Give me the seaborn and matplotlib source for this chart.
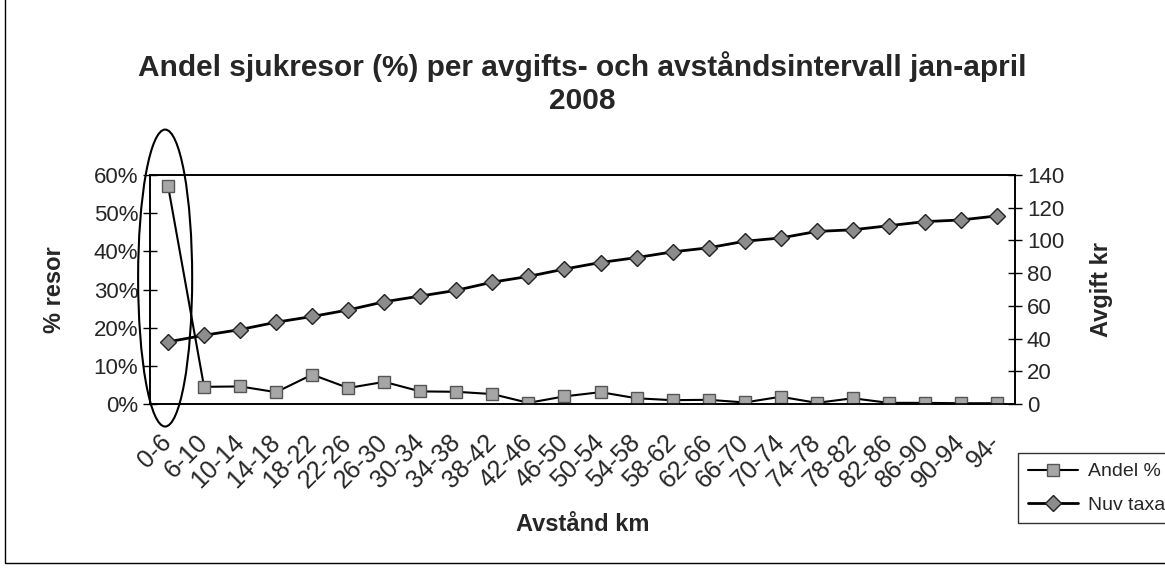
import seaborn as sns
import matplotlib.pyplot as plt
import pandas as pd
from matplotlib.patches import Ellipse, Rectangle
from matplotlib.lines import Line2D
from matplotlib.ticker import FuncFormatter, MultipleLocator
from matplotlib.transforms import ScaledTranslation

categories = ['0-6', '6-10', '10-14', '14-18', '18-22', '22-26', '26-30', '30-34',
              '34-38', '38-42', '42-46', '46-50', '50-54', '54-58', '58-62', '62-66',
              '66-70', '70-74', '74-78', '78-82', '82-86', '86-90', '90-94', '94-']
andel = [57.2, 4.5, 4.6, 3.1, 7.7, 4.2, 5.8, 3.3, 3.2, 2.6, 0.3, 2.0,
         3.1, 1.5, 1.0, 1.1, 0.4, 1.9, 0.3, 1.5, 0.3, 0.3, 0.2, 0.2]
nuv_taxa = [38, 42, 45.5, 50, 53.5, 57.5, 62.5, 66, 69.5, 74.5, 78, 82.5,
            86.5, 89.5, 93, 95.5, 99.5, 101.5, 105.5, 106.5, 109, 111.5, 112.5, 115]

df = pd.DataFrame({'pos': range(len(categories)), 'kat': categories,
                   'andel': andel, 'taxa': nuv_taxa})

sns.set_style("white")
plt.rcParams['font.family'] = ['Liberation Sans', 'DejaVu Sans']

fig = plt.figure(figsize=(11.65, 5.68), dpi=100)
ax = fig.add_axes([150/1165, 1-404/568, 865/1165, 229/568])
ax2 = ax.twinx()

sns.lineplot(data=df, x='pos', y='andel', ax=ax, color='black', linewidth=1.5,
             marker='s', markersize=8, markerfacecolor='#a6a6a6',
             markeredgecolor='#555555', markeredgewidth=1, zorder=3)
sns.lineplot(data=df, x='pos', y='taxa', ax=ax2, color='black', linewidth=2,
             marker='D', markersize=8, markerfacecolor='#8c8c8c',
             markeredgecolor='#222222', markeredgewidth=1, zorder=3)

ax.set_xlim(-0.5, len(categories) - 0.5)
ax.set_ylim(0, 60)
ax2.set_ylim(0, 140)
ax.yaxis.set_major_locator(MultipleLocator(10))
ax.yaxis.set_major_formatter(FuncFormatter(lambda v, p: f'{v:.0f}%'))
ax2.yaxis.set_major_locator(MultipleLocator(20))

ax.set_xticks(range(len(categories)))
ax.set_xticklabels(categories, rotation=45, ha='right', va='center',
                   rotation_mode='anchor', fontsize=18)
shift = ScaledTranslation(-5/100, 0, fig.dpi_scale_trans)
for lbl in ax.get_xticklabels():
    lbl.set_transform(lbl.get_transform() + shift)
ax.set_xticks([i + 0.5 for i in range(len(categories) - 1)], minor=True)
ax.tick_params(axis='x', which='major', length=0, pad=25)
ax.tick_params(axis='x', which='minor', length=9, width=1, direction='inout', color='black')
ax.tick_params(axis='y', length=10, width=1, direction='inout', labelsize=16, color='black', left=True)
ax2.tick_params(axis='y', length=10, width=1, direction='inout', labelsize=16, color='black', right=True)

for a in (ax, ax2):
    for s in a.spines.values():
        s.set_color('black')
        s.set_linewidth(1.2)

ax.set_xlabel('Avstånd km', fontsize=17, fontweight='bold')
ax.xaxis.set_label_coords(0.5, -0.476)
ax.set_ylabel('% resor', fontsize=17, fontweight='bold')
ax.yaxis.set_label_coords(-0.097, 0.5)
ax2.set_ylabel('Avgift kr', fontsize=17, fontweight='bold')
ax2.yaxis.set_label_coords(1.087, 0.5)

fig.text(0.5, 1-83/568, 'Andel sjukresor (%) per avgifts- och avståndsintervall jan-april\n2008',
         ha='center', va='center', fontsize=21.5, fontweight='bold', linespacing=1.2)

ell = Ellipse((-0.08, 33), width=1.5, height=77.8, fill=False, edgecolor='black',
              linewidth=1.5, clip_on=False, zorder=5)
ax.add_patch(ell)

handles = [Line2D([], [], color='black', lw=1.5, marker='s', markersize=8,
                  markerfacecolor='#a6a6a6', markeredgecolor='#555555'),
           Line2D([], [], color='black', lw=2, marker='D', markersize=8,
                  markerfacecolor='#8c8c8c', markeredgecolor='#222222')]
leg = fig.legend(handles, ['Andel %', 'Nuv taxa'], loc='upper left',
                 bbox_to_anchor=(1018/1165, 1-453/568), fontsize=14, frameon=True,
                 fancybox=False, edgecolor='black', handlelength=2.6, labelspacing=0.8,
                 borderpad=0.5, handletextpad=0.5, borderaxespad=0)
leg.get_frame().set_linewidth(1)

fig.patches.append(Rectangle((5/1165, 5/568), 1.2, 1.2, transform=fig.transFigure,
                             fill=False, edgecolor='black', linewidth=1))

fig.savefig('out.png', dpi=100)
plt.close()
